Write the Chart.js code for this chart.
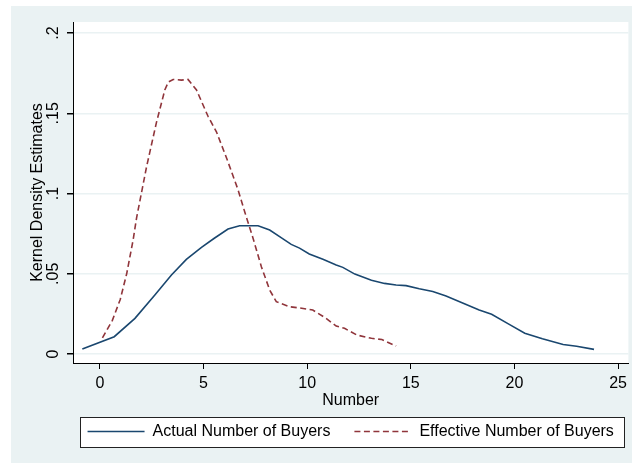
<!DOCTYPE html>
<html>
<head>
<meta charset="utf-8">
<script src="https://cdn.jsdelivr.net/npm/chart.js@4"></script>
<style>
  html, body { margin: 0; padding: 0; background: #ffffff; }
  #wrap { width: 632px; height: 464px; }
</style>
</head>
<body>
<div id="wrap"><canvas id="c" width="632" height="464"></canvas></div>
<script>
// Kernel density estimates of the number of buyers
const actualX = [-0.85, 0.69, 1.69, 2.65, 3.45, 4.17, 4.9, 5.5, 6.18, 6.74, 7.63, 8.19, 8.67, 9.23, 9.63, 10.1, 10.76, 11.4, 11.72, 12.3, 13.1, 13.73, 14.29, 14.77, 15.41, 16.06, 16.7, 17.5, 18.3, 18.9, 19.75, 20.5, 21.35, 22.35, 23.0, 23.84];
const actualY = [0.0031, 0.0108, 0.0222, 0.0368, 0.0492, 0.059, 0.0665, 0.072, 0.0779, 0.0799, 0.0799, 0.0773, 0.0731, 0.0683, 0.066, 0.0623, 0.059, 0.0555, 0.054, 0.0498, 0.046, 0.044, 0.043, 0.0426, 0.0407, 0.039, 0.0361, 0.0318, 0.0274, 0.0248, 0.0185, 0.013, 0.0095, 0.0059, 0.0048, 0.0029];

const effectiveX = [0.12, 0.6, 0.98, 1.29, 1.6, 1.77, 2.25, 2.73, 3.13, 3.3, 3.53, 3.93, 4.25, 4.66, 5.22, 5.62, 6.1, 6.66, 7.0, 7.38, 7.79, 8.19, 8.51, 9.15, 9.63, 10.27, 10.88, 11.4, 11.8, 12.4, 13.1, 13.6, 14.29];
const effectiveY = [0.0101, 0.021, 0.034, 0.05, 0.071, 0.085, 0.1167, 0.1445, 0.1645, 0.1695, 0.1711, 0.1707, 0.1711, 0.1645, 0.148, 0.1385, 0.1225, 0.1025, 0.088, 0.0725, 0.0544, 0.0399, 0.0326, 0.0295, 0.0287, 0.0274, 0.0225, 0.0174, 0.016, 0.0118, 0.0098, 0.009, 0.005];

const seriesNames = ['Actual Number of Buyers', 'Effective Number of Buyers'];
const xTicks = [0, 5, 10, 15, 20, 25];
const yTicks = [0, 0.05, 0.1, 0.15, 0.2];
const yTickLabels = ['0', '.05', '.1', '.15', '.2'];

const FONT = { family: '"Liberation Sans", Arial, Helvetica, sans-serif', size: 16 };
const GRAPH_BG = '#eaf2f3';
const AXIS = '#000000';

const toPoints = (xs, ys) => xs.map((x, i) => ({ x: x, y: ys[i] }));

// Graph region, plot region and the framed legend
const framePlugin = {
  id: 'frame',
  afterLayout(chart) {
    // centre the legend row under the plot region
    const lg = chart.legend, a = chart.chartArea;
    if (!lg) return;
    const d = (a.left + a.right) / 2 - (lg.left + lg.right) / 2;
    lg.left += d;
    lg.right += d;
  },
  beforeDraw(chart) {
    const { ctx, chartArea: a } = chart;
    ctx.save();
    ctx.fillStyle = '#ffffff';
    ctx.fillRect(0, 0, chart.width, chart.height);
    ctx.fillStyle = GRAPH_BG;
    ctx.fillRect(11, 6, chart.width - 11, chart.height - 7);
    ctx.fillStyle = '#ffffff';
    ctx.fillRect(a.left, a.top, a.right - a.left, a.bottom - a.top);

    const lg = chart.legend;
    if (lg && lg.legendHitBoxes && lg.legendHitBoxes.length) {
      const hb = lg.legendHitBoxes;
      const first = hb[0], last = hb[hb.length - 1];
      const cy = first.top + first.height / 2;
      const l = Math.round(first.left - 8) + 0.5;
      const r = Math.round(last.left + last.width + 10) + 0.5;
      const t = Math.round(cy - 15) + 0.5;
      const b = Math.round(cy + 15) + 0.5;
      ctx.fillStyle = '#ffffff';
      ctx.fillRect(l, t, r - l, b - t);
      ctx.strokeStyle = '#222222';
      ctx.lineWidth = 1;
      ctx.strokeRect(l, t, r - l, b - t);
    }
    ctx.restore();
  }
};

new Chart(document.getElementById('c'), {
  type: 'line',
  data: {
    datasets: [
      {
        label: seriesNames[0],
        data: toPoints(actualX, actualY),
        borderColor: '#1a476f',
        backgroundColor: '#1a476f',
        borderWidth: 1.6,
        pointRadius: 0,
        tension: 0,
        fill: false
      },
      {
        label: seriesNames[1],
        data: toPoints(effectiveX, effectiveY),
        borderColor: '#90353b',
        backgroundColor: '#90353b',
        borderWidth: 1.6,
        borderDash: [6, 3.5],
        pointRadius: 0,
        tension: 0,
        fill: false
      }
    ]
  },
  options: {
    responsive: false,
    animation: false,
    devicePixelRatio: 1,
    layout: { padding: { left: 0, right: 3, top: 22, bottom: 14.5 } },
    plugins: {
      title: { display: false },
      tooltip: { enabled: false },
      legend: {
        position: 'bottom',
        fullSize: true,
        labels: {
          usePointStyle: true,
          pointStyle: 'line',
          pointStyleWidth: 57,
          boxHeight: 16,
          padding: 24,
          color: '#000000',
          font: FONT,
          // legend keys repeat each series' line colour, width and dash
          generateLabels(chart) {
            const items = Chart.defaults.plugins.legend.labels.generateLabels(chart);
            items.forEach(item => {
              const ds = chart.data.datasets[item.datasetIndex];
              item.strokeStyle = ds.borderColor;
              item.lineWidth = ds.borderWidth;
              item.lineDash = ds.borderDash || [];
              item.pointStyle = 'line';
            });
            return items;
          }
        }
      }
    },
    scales: {
      x: {
        type: 'linear',
        min: -1.3,
        max: 25.5,
        afterBuildTicks: s => { s.ticks = xTicks.map(v => ({ value: v })); },
        afterFit: s => { s.height = 36.5; },
        ticks: {
          color: AXIS,
          font: FONT,
          padding: 5,
          maxRotation: 0,
          autoSkip: false,
          callback: v => String(v)
        },
        grid: {
          drawOnChartArea: false,
          drawTicks: true,
          tickLength: 6,
          tickColor: AXIS
        },
        border: { display: true, color: AXIS, width: 1 },
        title: {
          display: true,
          text: 'Number',
          color: AXIS,
          font: FONT,
          padding: { top: 2, bottom: -11 }
        }
      },
      y: {
        type: 'linear',
        min: -0.0056,
        max: 0.2069,
        afterBuildTicks: s => { s.ticks = yTicks.map(v => ({ value: v })); },
        afterFit: s => { s.width = 73; },
        ticks: {
          color: AXIS,
          font: FONT,
          padding: 2,
          minRotation: 90,
          maxRotation: 90,
          crossAlign: 'center',
          autoSkip: false,
          callback: v => {
            const i = yTicks.findIndex(t => Math.abs(t - v) < 1e-9);
            return i >= 0 ? yTickLabels[i] : '';
          }
        },
        grid: {
          color: GRAPH_BG,
          lineWidth: 1.5,
          drawTicks: true,
          tickLength: 6,
          tickColor: AXIS
        },
        border: { display: true, color: AXIS, width: 1 },
        title: {
          display: true,
          text: 'Kernel Density Estimates',
          color: AXIS,
          font: FONT,
          padding: { top: 28, bottom: 0 }
        }
      }
    }
  },
  plugins: [framePlugin]
});
</script>
</body>
</html>
